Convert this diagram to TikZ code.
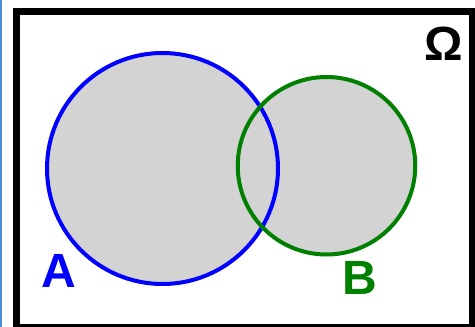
\documentclass[tikz,border=0pt]{standalone}
\usepackage{fontspec}
\setmainfont{Liberation Sans}
\usetikzlibrary{positioning}

\definecolor{setblue}{RGB}{0,0,255}
\definecolor{setgreen}{RGB}{0,128,0}
\definecolor{setgray}{RGB}{211,211,211}
\definecolor{edgeblue}{RGB}{74,144,217}

\begin{document}
\begin{tikzpicture}[x=1pt, y=-1pt]
  \tikzstyle{setline} = [line width=4pt]
  \tikzstyle{setlabel} = [inner sep=0pt, font=\fontsize{48}{48}\selectfont\bfseries]
  \tikzstyle{frame} = [line width=7pt, draw=black]

  \useasboundingbox (0,0) rectangle (475,327);

  % Left edge stripe and frame
  \fill[edgeblue] (0,0) rectangle (2,327);
  \draw[frame] (16.5,11.5) rectangle (472.5,327.5);

  % Set centres
  \coordinate (cA) at (162.5,168.5);
  \coordinate (cB) at (326.5,165.75);

  % Sets A and B
  \fill[setgray] (cA) circle[radius=115.5] (cB) circle[radius=88.75];
  \draw[setline, setblue] (cA) circle[radius=115.5];
  \draw[setline, setgreen] (cB) circle[radius=88.75];

  % Labels
  \node (omega) at (443.5,43.5) [setlabel, text=black] {Ω};
  \node (labA) at (59,270.5) [setlabel, text=setblue] {A};
  \node (labB) at (359.5,277.5) [setlabel, text=setgreen] {B};
\end{tikzpicture}
\end{document}
